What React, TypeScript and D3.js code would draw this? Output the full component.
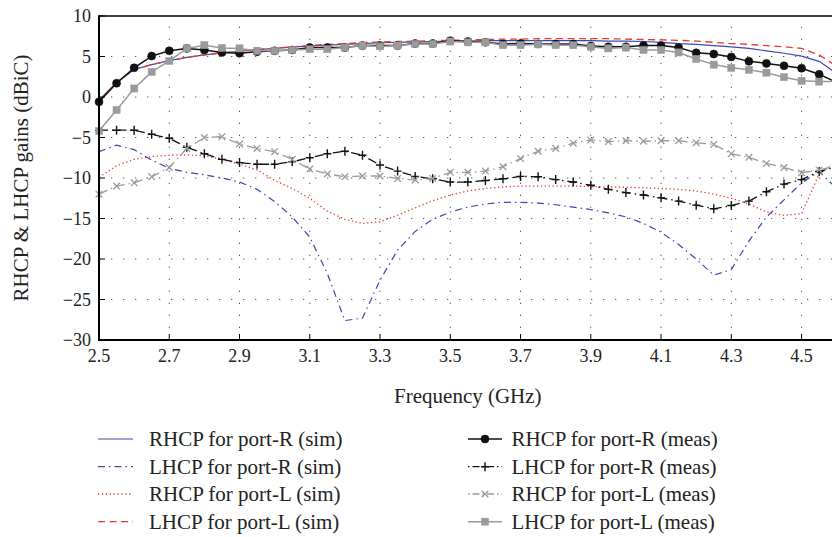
import React from "react";
import * as d3 from "d3";

// ---------- data ----------
const freq = [
  2.5, 2.55, 2.6, 2.65, 2.7, 2.75, 2.8, 2.85, 2.9, 2.95, 3.0, 3.05, 3.1, 3.15,
  3.2, 3.25, 3.3, 3.35, 3.4, 3.45, 3.5, 3.55, 3.6, 3.65, 3.7, 3.75, 3.8, 3.85,
  3.9, 3.95, 4.0, 4.05, 4.1, 4.15, 4.2, 4.25, 4.3, 4.35, 4.4, 4.45, 4.5, 4.55,
  4.6,
];

const rhcpPortRSim = [
  -0.4, 1.8, 3.4, 4.0, 4.5, 4.9, 5.2, 5.45, 5.65, 5.85, 6.0, 6.15, 6.3, 6.4,
  6.5, 6.6, 6.7, 6.75, 6.8, 6.85, 6.9, 6.9, 6.95, 6.95, 6.95, 6.95, 6.95, 6.95,
  6.95, 6.9, 6.9, 6.85, 6.75, 6.6, 6.5, 6.35, 6.2, 6.0, 5.7, 5.4, 5.05, 4.4,
  2.9,
];
const lhcpPortRSim = [
  -6.75, -5.95, -6.5, -7.8, -8.8, -9.3, -9.6, -10.0, -10.5, -11.4, -12.9,
  -14.8, -17.3, -21.8, -27.6, -27.3, -22.6, -18.9, -16.6, -15.1, -14.2, -13.6,
  -13.2, -13.0, -13.0, -13.1, -13.3, -13.6, -13.9, -14.3, -14.8, -15.6, -16.7,
  -18.2, -20.0, -22.0, -21.3, -17.8, -14.8, -12.7, -10.6, -9.2, -11.3,
];
const rhcpPortLSim = [
  -9.9, -8.5, -7.7, -7.35, -7.2, -7.15, -7.25, -7.7, -8.3, -9.0, -10.3, -11.3,
  -12.5, -14.1, -15.1, -15.6, -15.4, -14.6, -13.7, -12.8, -12.1, -11.6, -11.3,
  -11.1, -11.0, -11.0, -11.0, -11.0, -11.05, -11.1, -11.15, -11.2, -11.3,
  -11.4, -11.6, -12.0, -12.5, -13.2, -14.2, -14.6, -14.4, -9.5, -8.0,
];
const lhcpPortLSim = [
  -0.5, 1.8, 3.4, 4.0, 4.5, 4.9, 5.2, 5.45, 5.65, 5.85, 6.05, 6.2, 6.35, 6.5,
  6.6, 6.7, 6.8, 6.85, 6.9, 6.95, 7.0, 7.05, 7.1, 7.15, 7.15, 7.2, 7.2, 7.2,
  7.2, 7.2, 7.15, 7.1, 7.05, 7.0, 6.9, 6.75, 6.6, 6.5, 6.35, 6.2, 6.0, 5.2,
  3.8,
];

const rhcpPortRMeas = [
  -0.6, 1.7, 3.6, 5.05, 5.7, 6.0, 5.8, 5.5, 5.4, 5.6, 5.7, 5.8, 6.1, 6.1, 6.1,
  6.35, 6.35, 6.35, 6.6, 6.6, 6.95, 6.85, 6.75, 6.55, 6.6, 6.55, 6.55, 6.55,
  6.3, 6.2, 6.2, 6.35, 6.35, 6.1, 5.45, 5.3, 4.95, 4.4, 4.15, 3.85, 3.55, 2.8,
  1.8,
];
const lhcpPortRMeas = [
  -4.1, -4.1, -4.1, -4.6, -5.1, -6.2, -7.0, -7.7, -8.1, -8.3, -8.3, -8.0, -7.5,
  -7.0, -6.7, -7.2, -8.4, -9.15, -9.8, -10.1, -10.5, -10.5, -10.3, -10.1, -9.8,
  -9.85, -10.2, -10.5, -10.9, -11.4, -11.8, -12.1, -12.45, -12.85, -13.35,
  -13.8, -13.4, -12.85, -11.7, -10.75, -10.2, -9.2, -8.6,
];
const rhcpPortLMeas = [
  -12.0, -11.0, -10.6, -9.85, -8.7, -6.35, -5.0, -4.9, -5.8, -6.35, -6.75,
  -7.7, -8.9, -9.5, -9.85, -9.75, -9.75, -10.05, -10.25, -10.05, -9.3, -9.3,
  -9.15, -8.6, -7.6, -6.7, -6.35, -5.7, -5.3, -5.5, -5.4, -5.45, -5.4, -5.4,
  -5.65, -5.85, -7.0, -7.45, -8.2, -8.7, -9.35, -9.0, -8.5,
];
const lhcpPortLMeas = [
  -4.2, -1.6, 1.05, 3.1, 4.45, 6.0, 6.4, 6.05, 6.0, 5.7, 5.7, 5.8, 5.9, 5.9,
  6.1, 6.35, 6.25, 6.35, 6.55, 6.55, 6.85, 6.75, 6.75, 6.4, 6.4, 6.5, 6.4, 6.4,
  6.2, 6.0, 6.1, 5.8, 5.8, 5.5, 4.7, 4.0, 3.6, 3.35, 3.0, 2.45, 2.0, 1.9, 1.9,
];

const xTicks = [2.5, 2.7, 2.9, 3.1, 3.3, 3.5, 3.7, 3.9, 4.1, 4.3, 4.5];
const yTicks = [-30, -25, -20, -15, -10, -5, 0, 5, 10];

const legendSim = [
  "RHCP for port-R (sim)",
  "LHCP for port-R (sim)",
  "RHCP for port-L (sim)",
  "LHCP for port-L (sim)",
];
const legendMeas = [
  "RHCP for port-R (meas)",
  "LHCP for port-R (meas)",
  "RHCP for port-L (meas)",
  "LHCP for port-L (meas)",
];

// ---------- styles ----------
const BLUE = "#3c46b4";
const RED = "#e8392f";
const GRAY = "#9a9a9a";
const FONT = '"Liberation Serif", "DejaVu Serif", serif';
const TXT: React.CSSProperties = { fontFamily: FONT };

type Marker = "circle" | "plus" | "cross" | "square" | null;
interface Style {
  color: string;
  width: number;
  dash?: string;
  marker: Marker;
}
const simStyles: Style[] = [
  { color: BLUE, width: 1.2, marker: null },
  { color: BLUE, width: 1.2, dash: "7,4,1.5,4", marker: null },
  { color: RED, width: 1.3, dash: "1.3,2.6", marker: null },
  { color: RED, width: 1.3, dash: "7,4.5", marker: null },
];
const measStyles: Style[] = [
  { color: "#111", width: 1.5, marker: "circle" },
  { color: "#111", width: 1.3, dash: "9,4,1.5,4", marker: "plus" },
  { color: GRAY, width: 1.3, dash: "9,4,1.5,4", marker: "cross" },
  { color: GRAY, width: 1.5, marker: "square" },
];

function MarkerShape({ type, x, y, color }: { type: Marker; x: number; y: number; color: string }) {
  if (type === "circle") return <circle cx={x} cy={y} r={4} fill={color} stroke={color} strokeWidth={0.6} />;
  if (type === "square")
    return <rect x={x - 3.6} y={y - 3.6} width={7.2} height={7.2} fill={color} stroke={color} strokeWidth={0.4} />;
  if (type === "plus")
    return (
      <path d={`M${x - 4},${y}H${x + 4}M${x},${y - 4.5}V${y + 4.5}`} stroke={color} strokeWidth={1.4} fill="none" />
    );
  if (type === "cross")
    return (
      <path
        d={`M${x - 3.3},${y - 3.3}L${x + 3.3},${y + 3.3}M${x - 3.3},${y + 3.3}L${x + 3.3},${y - 3.3}`}
        stroke={color}
        strokeWidth={1.3}
        fill="none"
      />
    );
  return null;
}

export default function App() {
  const W = 832;
  const H = 537;
  const x = d3.scaleLinear().domain([2.5, 4.6]).range([99, 836.7]);
  const y = d3.scaleLinear().domain([-30, 10]).range([340, 16]);
  const x0 = x(2.5);
  const y0 = y(-30);
  const yTop = y(10);

  const line = d3
    .line<[number, number]>()
    .x((d) => x(d[0]))
    .y((d) => y(d[1]));

  const simSeries = [rhcpPortRSim, lhcpPortRSim, rhcpPortLSim, lhcpPortLSim];
  const measSeries = [rhcpPortRMeas, lhcpPortRMeas, rhcpPortLMeas, lhcpPortLMeas];
  const pts = (vals: number[]) => freq.map((f, i) => [f, vals[i]] as [number, number]);

  const legendRowY = [439, 466.7, 494, 521.7];

  return (
    <svg
      width={W}
      height={H}
      viewBox={`0 0 ${W} ${H}`}
      style={{ position: "absolute", left: 0, top: 0, background: "#fff" }}
    >
      {/* grid */}
      <g stroke="#555" strokeWidth={1} strokeDasharray="1.3,10.7">
        {xTicks.slice(1).map((t) => (
          <line key={"gx" + t} x1={x(t)} x2={x(t)} y1={y0} y2={yTop} />
        ))}
        {yTicks.slice(1, -1).map((t) => (
          <line key={"gy" + t} x1={x0} x2={W} y1={y(t)} y2={y(t)} />
        ))}
      </g>

      {/* simulated */}
      {simSeries.map((s, i) => (
        <path
          key={"sim" + i}
          d={line(pts(s)) || ""}
          fill="none"
          stroke={simStyles[i].color}
          strokeWidth={simStyles[i].width}
          strokeDasharray={simStyles[i].dash}
        />
      ))}

      {/* measured */}
      {measSeries.map((s, i) => (
        <g key={"meas" + i}>
          <path
            d={line(pts(s)) || ""}
            fill="none"
            stroke={measStyles[i].color}
            strokeWidth={measStyles[i].width}
            strokeDasharray={measStyles[i].dash}
          />
          {pts(s).map((p, j) => (
            <MarkerShape key={j} type={measStyles[i].marker} x={x(p[0])} y={y(p[1])} color={measStyles[i].color} />
          ))}
        </g>
      ))}

      {/* axes */}
      <g stroke="#000" fill="none">
        <line x1={x0} x2={W} y1={yTop} y2={yTop} strokeWidth={1.6} />
        <line x1={x0} x2={x0} y1={yTop - 0.8} y2={y0 + 1} strokeWidth={2} />
        <line x1={x0 - 1} x2={W} y1={y0} y2={y0} strokeWidth={2} />
        {xTicks.map((t) => (
          <line key={"tx" + t} x1={x(t)} x2={x(t)} y1={y0} y2={y0 - 6} strokeWidth={1} />
        ))}
        {yTicks.map((t) => (
          <line key={"ty" + t} x1={x0} x2={x0 + 6} y1={y(t)} y2={y(t)} strokeWidth={1} />
        ))}
      </g>

      {/* tick labels */}
      <g fontSize={18} fill="#222">
        {xTicks.map((t) => (
          <text key={"lx" + t} x={x(t)} y={362} textAnchor="middle" style={TXT}>
            {t.toFixed(1)}
          </text>
        ))}
        {yTicks.map((t) => (
          <text key={"ly" + t} x={91} y={y(t)} dy="0.35em" textAnchor="end" style={TXT}>
            {t < 0 ? "\u2212" + Math.abs(t) : String(t)}
          </text>
        ))}
      </g>

      {/* axis titles */}
      <text x={(x0 + x(4.6)) / 2} y={403} fontSize={21} textAnchor="middle" fill="#222" style={TXT}>
        Frequency (GHz)
      </text>
      <text
        transform={`translate(21,${(yTop + y0) / 2}) rotate(-90)`}
        fontSize={21}
        textAnchor="middle"
        dy="0.35em"
        fill="#222"
        style={TXT}
      >
        RHCP &amp; LHCP gains (dBiC)
      </text>

      {/* legend */}
      {legendSim.map((label, i) => (
        <g key={"ls" + i}>
          <line
            x1={98}
            x2={133}
            y1={legendRowY[i]}
            y2={legendRowY[i]}
            stroke={simStyles[i].color}
            strokeWidth={simStyles[i].width}
            strokeDasharray={simStyles[i].dash}
          />
          <text x={149} y={legendRowY[i] + 7} fontSize={21} fill="#222" style={TXT}>
            {label}
          </text>
        </g>
      ))}
      {legendMeas.map((label, i) => (
        <g key={"lm" + i}>
          <line
            x1={468}
            x2={502}
            y1={legendRowY[i]}
            y2={legendRowY[i]}
            stroke={measStyles[i].color}
            strokeWidth={measStyles[i].width}
            strokeDasharray={measStyles[i].dash ? "1.5,3,7,3" : undefined}
          />
          <MarkerShape type={measStyles[i].marker} x={485} y={legendRowY[i]} color={measStyles[i].color} />
          <text x={511.5} y={legendRowY[i] + 7} fontSize={21} fill="#222" style={TXT}>
            {label}
          </text>
        </g>
      ))}
    </svg>
  );
}
